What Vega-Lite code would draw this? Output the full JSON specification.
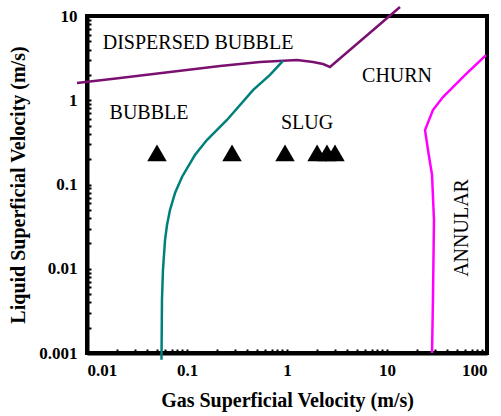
{
  "$schema": "https://vega.github.io/schema/vega-lite/v6.json",
  "width": 400,
  "height": 337,
  "autosize": {"type": "none"},
  "padding": {"left": 87, "top": 16, "right": 14, "bottom": 63},
  "background": "white",
  "config": {
    "view": {"stroke": "black", "strokeWidth": 4},
    "font": "Liberation Serif",
    "axis": {
      "grid": false,
      "domain": true,
      "domainColor": "black",
      "domainWidth": 4,
      "tickColor": "black",
      "tickWidth": 2,
      "labelFont": "Liberation Serif",
      "labelFontWeight": "bold",
      "labelFontSize": 17,
      "labelColor": "black",
      "titleFont": "Liberation Serif",
      "titleFontWeight": "bold",
      "titleFontSize": 20,
      "titleColor": "black",
      "labelOverlap": false
    }
  },
  "datasets": {
    "curves": [
      {"series": "dispersed", "i": 1, "x": 0.00794, "y": 1.60},
      {"series": "dispersed", "i": 2, "x": 0.0214, "y": 1.84},
      {"series": "dispersed", "i": 3, "x": 0.0676, "y": 2.16},
      {"series": "dispersed", "i": 4, "x": 0.214, "y": 2.55},
      {"series": "dispersed", "i": 5, "x": 0.537, "y": 2.84},
      {"series": "dispersed", "i": 6, "x": 1.26, "y": 3.01},
      {"series": "dispersed", "i": 7, "x": 1.82, "y": 2.84},
      {"series": "dispersed", "i": 8, "x": 2.29, "y": 2.69},
      {"series": "dispersed", "i": 9, "x": 2.69, "y": 2.48},
      {"series": "dispersed", "i": 10, "x": 13.5, "y": 12.8},
      {"series": "slug", "i": 1, "x": 0.0556, "y": 0.00083},
      {"series": "slug", "i": 2, "x": 0.0562, "y": 0.00426},
      {"series": "slug", "i": 3, "x": 0.0575, "y": 0.00966},
      {"series": "slug", "i": 4, "x": 0.0603, "y": 0.0219},
      {"series": "slug", "i": 5, "x": 0.0631, "y": 0.033},
      {"series": "slug", "i": 6, "x": 0.0676, "y": 0.0498},
      {"series": "slug", "i": 7, "x": 0.0759, "y": 0.0792},
      {"series": "slug", "i": 8, "x": 0.0891, "y": 0.1228},
      {"series": "slug", "i": 9, "x": 0.120, "y": 0.224},
      {"series": "slug", "i": 10, "x": 0.158, "y": 0.337},
      {"series": "slug", "i": 11, "x": 0.251, "y": 0.583},
      {"series": "slug", "i": 12, "x": 0.457, "y": 1.32},
      {"series": "slug", "i": 13, "x": 0.676, "y": 2.0},
      {"series": "slug", "i": 14, "x": 0.912, "y": 2.93},
      {"series": "annular", "i": 1, "x": 97.7, "y": 3.44},
      {"series": "annular", "i": 2, "x": 63.1, "y": 2.1},
      {"series": "annular", "i": 3, "x": 36.3, "y": 1.09},
      {"series": "annular", "i": 4, "x": 28.8, "y": 0.766},
      {"series": "annular", "i": 5, "x": 24.0, "y": 0.443},
      {"series": "annular", "i": 6, "x": 25.7, "y": 0.257},
      {"series": "annular", "i": 7, "x": 28.2, "y": 0.130},
      {"series": "annular", "i": 8, "x": 29.5, "y": 0.038},
      {"series": "annular", "i": 9, "x": 28.8, "y": 0.00426},
      {"series": "annular", "i": 10, "x": 28.2, "y": 0.001}
    ],
    "points": [
      {"x": 0.0501, "y": 0.237},
      {"x": 0.282, "y": 0.237},
      {"x": 0.955, "y": 0.237},
      {"x": 2.0, "y": 0.237},
      {"x": 2.51, "y": 0.237},
      {"x": 3.02, "y": 0.237}
    ],
    "labels": [
      {"x": 0.129, "y": 4.78, "text": "DISPERSED BUBBLE"},
      {"x": 0.0417, "y": 0.706, "text": "BUBBLE"},
      {"x": 1.585, "y": 0.537, "text": "SLUG"},
      {"x": 12.6, "y": 1.94, "text": "CHURN"}
    ],
    "vlabels": [
      {"x": 56.2, "y": 0.0305, "text": "ANNULAR"}
    ]
  },
  "layer": [
    {
      "data": {"name": "curves"},
      "mark": {"type": "line", "strokeWidth": 2.5, "clip": false},
      "encoding": {
        "x": {
          "field": "x", "type": "quantitative",
          "scale": {"type": "log", "domain": [0.01, 100], "nice": false},
          "axis": {
            "title": "Gas Superficial Velocity (m/s)",
            "values": [0.01,0.02,0.03,0.04,0.05,0.06,0.07,0.08,0.09,0.1,0.2,0.3,0.4,0.5,0.6,0.7,0.8,0.9,1,2,3,4,5,6,7,8,9,10,20,30,40,50,60,70,80,90,100],
            "labelExpr": "indexof([0.01,0.1,1,10,100], datum.value) >= 0 ? format(datum.value, '~g') : ''",
            "tickSize": -4,
            "labelPadding": 13,
            "titlePadding": 12
          }
        },
        "y": {
          "field": "y", "type": "quantitative",
          "scale": {"type": "log", "domain": [0.001, 10], "nice": false},
          "axis": {
            "title": "Liquid Superficial Velocity (m/s)",
            "values": [0.001,0.002,0.003,0.004,0.005,0.006,0.007,0.008,0.009,0.01,0.02,0.03,0.04,0.05,0.06,0.07,0.08,0.09,0.1,0.2,0.3,0.4,0.5,0.6,0.7,0.8,0.9,1,2,3,4,5,6,7,8,9,10],
            "labelExpr": "indexof([0.001,0.01,0.1,1,10], datum.value) >= 0 ? format(datum.value, '~g') : ''",
            "tickSize": -4,
            "labelPadding": 14,
            "titlePadding": 10
          }
        },
        "color": {
          "field": "series", "type": "nominal", "legend": null,
          "scale": {"domain": ["dispersed", "slug", "annular"], "range": ["#7a1070", "#00807a", "#ff00ff"]}
        },
        "order": {"field": "i", "type": "quantitative"}
      }
    },
    {
      "data": {"name": "points"},
      "mark": {"type": "point", "shape": "triangle-up", "filled": true, "color": "black", "opacity": 1, "size": 380},
      "encoding": {
        "x": {"field": "x", "type": "quantitative"},
        "y": {"field": "y", "type": "quantitative"}
      }
    },
    {
      "data": {"name": "labels"},
      "mark": {"type": "text", "font": "Liberation Serif", "fontSize": 20, "color": "black", "align": "center", "baseline": "middle"},
      "encoding": {
        "x": {"field": "x", "type": "quantitative"},
        "y": {"field": "y", "type": "quantitative"},
        "text": {"field": "text"}
      }
    },
    {
      "data": {"name": "vlabels"},
      "mark": {"type": "text", "font": "Liberation Serif", "fontSize": 20, "color": "black", "align": "center", "baseline": "middle", "angle": 270},
      "encoding": {
        "x": {"field": "x", "type": "quantitative"},
        "y": {"field": "y", "type": "quantitative"},
        "text": {"field": "text"}
      }
    }
  ]
}
